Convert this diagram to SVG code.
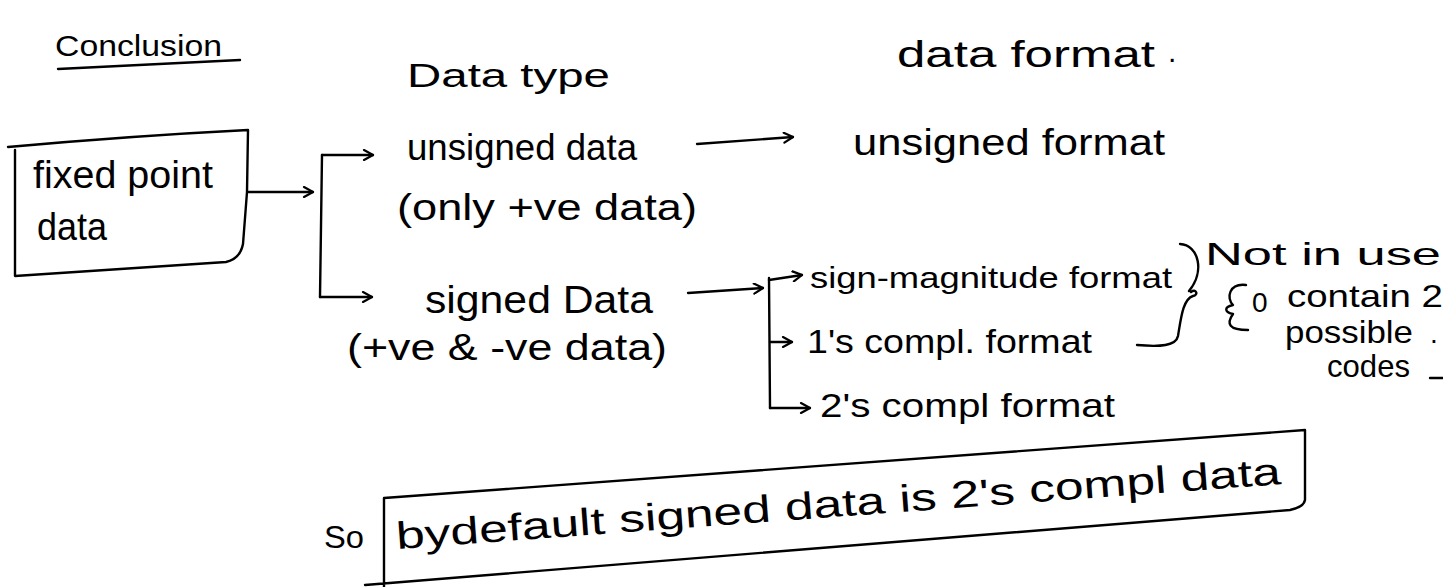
<svg xmlns="http://www.w3.org/2000/svg" width="1443" height="587" viewBox="0 0 1443 587">
  <style>
    text { font-family: "Liberation Sans", "DejaVu Sans", sans-serif; fill: #000; }
    .ink { fill: none; stroke: #000; stroke-width: 2.4; stroke-linecap: round; stroke-linejoin: round; }
    .arrow { fill: none; stroke: #000; stroke-width: 2.4; stroke-linecap: round; marker-end: url(#head); }
  </style>
  <defs>
    <marker id="head" viewBox="0 0 12 12" refX="11" refY="6" markerWidth="12" markerHeight="12" markerUnits="userSpaceOnUse" orient="auto">
      <path d="M2 1 L11 6 L2 11" fill="none" stroke="#000" stroke-width="2.2" stroke-linecap="round"/>
    </marker>
  </defs>
  <rect width="1443" height="587" fill="#fff"/>

  <!-- headings -->
  <g id="title">
    <text x="55" y="56" font-size="30" textLength="167" lengthAdjust="spacingAndGlyphs">Conclusion</text>
    <path class="ink" d="M58 69 L240 60"/>
  </g>
  <g id="col-type">
    <text x="407" y="87" font-size="34" textLength="203" lengthAdjust="spacingAndGlyphs">Data type</text>
  </g>
  <g id="col-format">
    <text x="897" y="67" font-size="36" textLength="258" lengthAdjust="spacingAndGlyphs">data format</text>
    <text x="1168" y="62" font-size="30">.</text>
  </g>

  <!-- root node -->
  <g id="fixed-point">
    <path class="ink" d="M8 147 Q130 136 248 130 L247 192 L243 244 Q240 259 226 262 L15 276 L15 150"/>
    <text x="33" y="188" font-size="38" textLength="180" lengthAdjust="spacingAndGlyphs">fixed point</text>
    <text x="37" y="240" font-size="38" textLength="70" lengthAdjust="spacingAndGlyphs">data</text>
  </g>

  <!-- data types -->
  <g id="unsigned-data">
    <text x="407" y="160" font-size="36" textLength="230" lengthAdjust="spacingAndGlyphs">unsigned data</text>
    <text x="397" y="220" font-size="36" textLength="300" lengthAdjust="spacingAndGlyphs">(only +ve data)</text>
  </g>
  <g id="signed-data">
    <text x="425" y="313" font-size="38" textLength="228" lengthAdjust="spacingAndGlyphs">signed Data</text>
    <text x="347" y="360" font-size="36" textLength="320" lengthAdjust="spacingAndGlyphs">(+ve &amp; -ve data)</text>
  </g>

  <!-- data formats -->
  <g id="unsigned-format">
    <text x="853" y="155" font-size="36" textLength="312" lengthAdjust="spacingAndGlyphs">unsigned format</text>
  </g>
  <g id="sign-magnitude">
    <text x="810" y="288" font-size="30" textLength="362" lengthAdjust="spacingAndGlyphs">sign-magnitude format</text>
  </g>
  <g id="ones-compl">
    <text x="807" y="353" font-size="34" textLength="285" lengthAdjust="spacingAndGlyphs">1's compl. format</text>
  </g>
  <g id="twos-compl">
    <text x="820" y="417" font-size="34" textLength="295" lengthAdjust="spacingAndGlyphs">2's compl format</text>
  </g>

  <!-- side note on the first two formats -->
  <g id="note">
    <path class="ink" d="M1180 244 C1199 245 1205 272 1189 291 M1191 292 C1196 288 1199 295 1193 296 C1183 299 1181 318 1178 336 C1176 346 1160 347 1137 345"/>
    <text x="1205" y="265" font-size="32" textLength="236" lengthAdjust="spacingAndGlyphs">Not in use</text>
    <path class="ink" d="M1246 285 C1229 283 1226 298 1233 305 C1224 307 1224 312 1233 314 C1226 324 1229 330 1248 330"/>
    <text x="1252" y="312" font-size="28">0</text>
    <text x="1287" y="307" font-size="32" textLength="156" lengthAdjust="spacingAndGlyphs">contain 2</text>
    <text x="1285" y="343" font-size="32" textLength="128" lengthAdjust="spacingAndGlyphs">possible</text>
    <text x="1430" y="343" font-size="28">.</text>
    <text x="1327" y="377" font-size="32" textLength="83" lengthAdjust="spacingAndGlyphs">codes</text>
    <path class="ink" d="M1430 378 L1443 378"/>
  </g>

  <!-- summary -->
  <g id="summary">
    <text x="324" y="548" font-size="32" textLength="40" lengthAdjust="spacingAndGlyphs">So</text>
    <path class="ink" d="M384 498 L1305 430 L1305 500 Q1304 507 1290 510 L365 585 M384 498 L384 587"/>
    <text x="397" y="549" font-size="38" textLength="887" lengthAdjust="spacingAndGlyphs" transform="rotate(-4.2 397 549)">bydefault signed data is 2's compl data</text>
  </g>

  <!-- connectors -->
  <g id="connectors">
    <path class="arrow" d="M248 192 L313 192"/>
    <path class="ink" d="M322 155 L320 297"/>
    <path class="arrow" d="M322 155 L373 155"/>
    <path class="arrow" d="M320 297 L372 297"/>
    <path class="arrow" d="M697 144 L793 137"/>
    <path class="arrow" d="M688 293 L763 288"/>
    <path class="ink" d="M769 278 L770 408"/>
    <path class="arrow" d="M769 280 L802 275"/>
    <path class="arrow" d="M770 342 L792 342"/>
    <path class="arrow" d="M770 408 L810 408"/>
  </g>
</svg>
